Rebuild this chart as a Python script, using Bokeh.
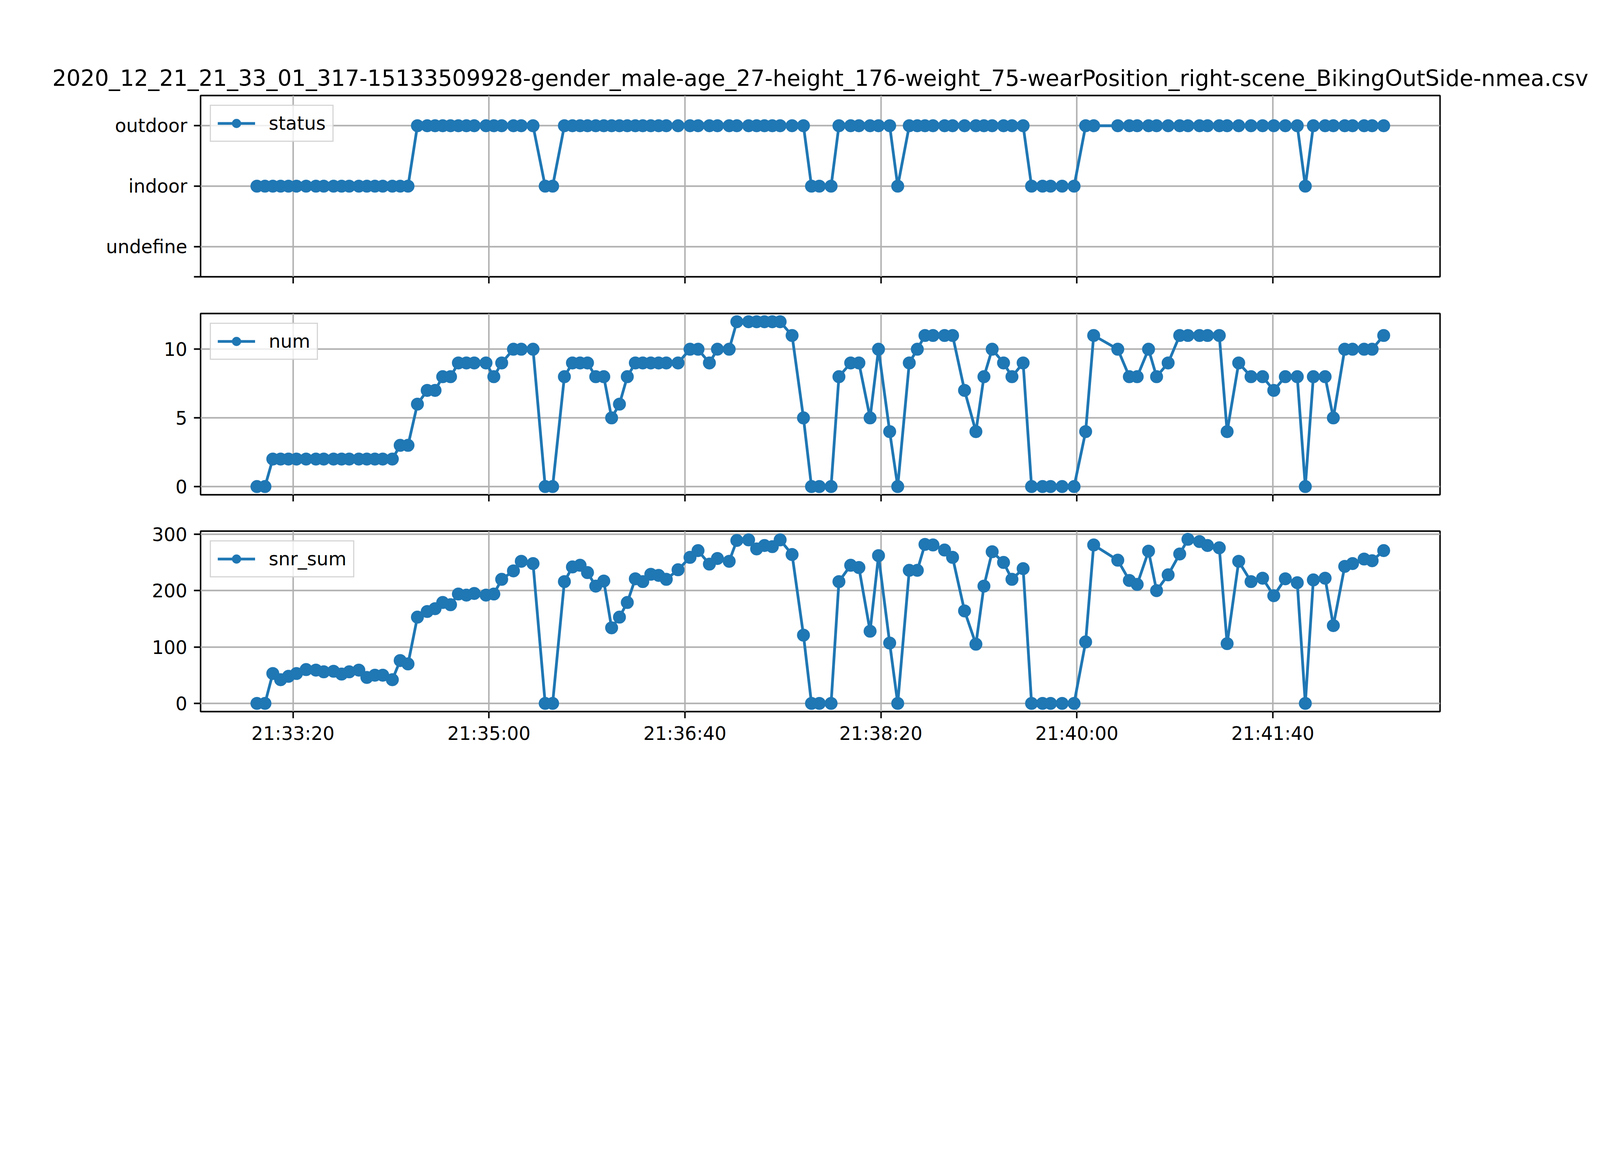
import pandas as pd

from bokeh.embed import file_html
from bokeh.layouts import column
from bokeh.models import CustomJSTickFormatter, DatetimeTickFormatter, FixedTicker, Range1d
from bokeh.plotting import figure
from bokeh.resources import INLINE

DAY = "2020-12-21"
TITLE = ("2020_12_21_21_33_01_317-15133509928-gender_male-age_27-height_176-"
         "weight_75-wearPosition_right-scene_BikingOutSide-nmea.csv")

# sample times (time of day)
times = [
    "21:33:01.6", "21:33:05.7", "21:33:09.7", "21:33:13.7", "21:33:17.7", "21:33:21.8",
    "21:33:26.7", "21:33:31.7", "21:33:35.7", "21:33:40.7", "21:33:44.8", "21:33:48.7",
    "21:33:53.6", "21:33:57.7", "21:34:01.8", "21:34:05.8", "21:34:10.7", "21:34:14.7",
    "21:34:18.7", "21:34:23.5", "21:34:28.5", "21:34:32.5", "21:34:36.4", "21:34:40.4",
    "21:34:44.4", "21:34:48.5", "21:34:52.5", "21:34:58.5", "21:35:02.5", "21:35:06.5",
    "21:35:12.5", "21:35:16.5", "21:35:22.5", "21:35:28.7", "21:35:32.5", "21:35:38.5",
    "21:35:42.6", "21:35:46.5", "21:35:50.3", "21:35:54.5", "21:35:58.6", "21:36:02.6",
    "21:36:06.6", "21:36:10.6", "21:36:14.7", "21:36:18.5", "21:36:22.6", "21:36:26.6",
    "21:36:30.5", "21:36:36.5", "21:36:42.6", "21:36:46.7", "21:36:52.5", "21:36:56.6",
    "21:37:02.6", "21:37:06.5", "21:37:12.5", "21:37:16.6", "21:37:20.6", "21:37:24.6",
    "21:37:28.6", "21:37:34.7", "21:37:40.5", "21:37:44.6", "21:37:48.6", "21:37:54.6",
    "21:37:58.6", "21:38:04.6", "21:38:08.8", "21:38:14.5", "21:38:18.8", "21:38:24.5",
    "21:38:28.6", "21:38:34.5", "21:38:38.6", "21:38:42.5", "21:38:46.6", "21:38:52.5",
    "21:38:56.6", "21:39:02.7", "21:39:08.5", "21:39:12.6", "21:39:16.8", "21:39:22.6",
    "21:39:26.9", "21:39:32.6", "21:39:36.9", "21:39:42.5", "21:39:46.6", "21:39:52.5",
    "21:39:58.6", "21:40:04.5", "21:40:08.6", "21:40:20.9", "21:40:26.8", "21:40:30.8",
    "21:40:36.6", "21:40:40.7", "21:40:46.6", "21:40:52.5", "21:40:56.7", "21:41:02.6",
    "21:41:06.7", "21:41:12.7", "21:41:16.7", "21:41:22.6", "21:41:28.9", "21:41:34.8",
    "21:41:40.5", "21:41:46.4", "21:41:52.5", "21:41:56.6", "21:42:00.7", "21:42:06.7",
    "21:42:10.9", "21:42:16.7", "21:42:20.7", "21:42:26.6", "21:42:30.7", "21:42:36.6",
]

status = [
    "indoor", "indoor", "indoor", "indoor", "indoor", "indoor", "indoor", "indoor",
    "indoor", "indoor", "indoor", "indoor", "indoor", "indoor", "indoor", "indoor",
    "indoor", "indoor", "indoor", "outdoor", "outdoor", "outdoor", "outdoor", "outdoor",
    "outdoor", "outdoor", "outdoor", "outdoor", "outdoor", "outdoor", "outdoor", "outdoor",
    "outdoor", "indoor", "indoor", "outdoor", "outdoor", "outdoor", "outdoor", "outdoor",
    "outdoor", "outdoor", "outdoor", "outdoor", "outdoor", "outdoor", "outdoor", "outdoor",
    "outdoor", "outdoor", "outdoor", "outdoor", "outdoor", "outdoor", "outdoor", "outdoor",
    "outdoor", "outdoor", "outdoor", "outdoor", "outdoor", "outdoor", "outdoor", "indoor",
    "indoor", "indoor", "outdoor", "outdoor", "outdoor", "outdoor", "outdoor", "outdoor",
    "indoor", "outdoor", "outdoor", "outdoor", "outdoor", "outdoor", "outdoor", "outdoor",
    "outdoor", "outdoor", "outdoor", "outdoor", "outdoor", "outdoor", "indoor", "indoor",
    "indoor", "indoor", "indoor", "outdoor", "outdoor", "outdoor", "outdoor", "outdoor",
    "outdoor", "outdoor", "outdoor", "outdoor", "outdoor", "outdoor", "outdoor", "outdoor",
    "outdoor", "outdoor", "outdoor", "outdoor", "outdoor", "outdoor", "outdoor", "indoor",
    "outdoor", "outdoor", "outdoor", "outdoor", "outdoor", "outdoor", "outdoor", "outdoor",
]

num = [
    0, 0, 2, 2, 2, 2, 2, 2, 2, 2, 2, 2, 2, 2, 2, 2, 2, 3, 3, 6,
    7, 7, 8, 8, 9, 9, 9, 9, 8, 9, 10, 10, 10, 0, 0, 8, 9, 9, 9, 8,
    8, 5, 6, 8, 9, 9, 9, 9, 9, 9, 10, 10, 9, 10, 10, 12, 12, 12, 12, 12,
    12, 11, 5, 0, 0, 0, 8, 9, 9, 5, 10, 4, 0, 9, 10, 11, 11, 11, 11, 7,
    4, 8, 10, 9, 8, 9, 0, 0, 0, 0, 0, 4, 11, 10, 8, 8, 10, 8, 9, 11,
    11, 11, 11, 11, 4, 9, 8, 8, 7, 8, 8, 0, 8, 8, 5, 10, 10, 10, 10, 11,
]

snr_sum = [
    0, 0, 53, 42, 48, 53, 60, 59, 56, 57, 52, 56, 59, 46, 50, 50, 42, 76, 70, 153,
    163, 168, 179, 175, 194, 192, 195, 192, 194, 220, 235, 252, 248, 0, 0, 216, 242, 245, 232, 208,
    217, 134, 153, 179, 221, 216, 229, 227, 220, 237, 259, 271, 247, 257, 252, 289, 290, 274, 280, 278,
    290, 264, 121, 0, 0, 0, 216, 245, 241, 128, 262, 107, 0, 236, 236, 282, 281, 272, 259, 164,
    105, 208, 269, 250, 220, 239, 0, 0, 0, 0, 0, 109, 281, 254, 218, 211, 270, 200, 228, 265,
    291, 287, 280, 276, 106, 252, 216, 222, 191, 221, 214, 0, 219, 222, 138, 243, 248, 256, 253, 271,
]

status_levels = ["undefine", "indoor", "outdoor"]
x_tick_labels = ["21:33:20", "21:35:00", "21:36:40", "21:38:20", "21:40:00", "21:41:40"]
num_ticks = [0, 5, 10]
snr_ticks = [0, 100, 200, 300]

BLUE = "#1f77b4"
FONT = "DejaVu Sans"
LW = 3.8  # spines, grid, ticks


def to_ms(clock):
    t = pd.to_datetime([f"{DAY} {c}" for c in clock])
    return [float(v) / 1e6 for v in t.asi8]


x = to_ms(times)
x_ticks = to_ms(x_tick_labels)
span = max(x) - min(x)
x_range = Range1d(min(x) - 0.05 * span, max(x) + 0.05 * span)


def pad_range(vals):
    lo, hi = min(vals), max(vals)
    m = 0.05 * (hi - lo)
    return Range1d(lo - m, hi + m)


def panel(name, y, y_range, y_ticks, height, top, bottom, last=False):
    p = figure(
        width=4080, height=height,
        x_axis_type="datetime", x_range=x_range, y_range=y_range,
        min_border_left=513, min_border_right=394,
        min_border_top=top, min_border_bottom=bottom,
        output_backend="svg", toolbar_location=None, tools="",
    )
    p.outline_line_color = "black"
    p.outline_line_width = LW

    p.xaxis.ticker = FixedTicker(ticks=x_ticks)
    p.yaxis.ticker = FixedTicker(ticks=y_ticks)
    for ax in (p.xaxis[0], p.yaxis[0]):
        ax.axis_line_color = None
        ax.major_tick_line_width = LW
        ax.major_tick_out = 17
        ax.major_tick_in = 0
        ax.minor_tick_line_color = None
        ax.major_label_text_font = FONT
        ax.major_label_text_font_size = "47.4px"
        ax.major_label_text_color = "black"
    p.yaxis.major_label_standoff = 17
    p.xaxis.major_label_standoff = 11

    if last:
        p.xaxis.formatter = DatetimeTickFormatter(
            seconds="%H:%M:%S", minsec="%H:%M:%S", minutes="%H:%M:%S",
            hourmin="%H:%M:%S", hours="%H:%M:%S",
        )
    else:
        p.xaxis.formatter = CustomJSTickFormatter(code="return ''")
        p.xaxis.major_label_text_font_size = "8px"
        p.xaxis.major_label_standoff = 0

    p.xgrid.ticker = FixedTicker(ticks=x_ticks)
    p.ygrid.ticker = FixedTicker(ticks=y_ticks)
    for g in (p.xgrid[0], p.ygrid[0]):
        g.grid_line_color = "#b0b0b0"
        g.grid_line_width = LW

    p.line(x, y, line_color=BLUE, line_width=7.1, line_join="round", legend_label=name)
    p.scatter(x, y, size=28.5, fill_color=BLUE, line_color=BLUE, line_width=4.7, legend_label=name)

    lg = p.legend[0]
    lg.location = "top_left"
    lg.margin = 24
    lg.padding = 17
    lg.spacing = 0
    lg.glyph_width = 96
    lg.glyph_height = 47
    lg.label_height = 47
    lg.label_standoff = 35
    lg.label_text_font = FONT
    lg.label_text_font_size = "47.4px"
    lg.label_text_color = "black"
    lg.border_line_color = "#cccccc"
    lg.border_line_width = LW
    lg.border_line_alpha = 0.8
    lg.background_fill_alpha = 0.8
    return p


status_y = [status_levels.index(s) for s in status]

p1 = panel("status", status_y, Range1d(-0.5, 2.5), [-0.5, 0, 1, 2], 755, 244, 47)
p1.yaxis.formatter = CustomJSTickFormatter(
    args=dict(labels=status_levels),
    code="const i = Math.round(tick); return (Math.abs(tick - i) < 1e-9 && i >= 0 && i < labels.length) ? labels[i] : '';",
)
p1.title.text = TITLE
p1.title.text_font = FONT
p1.title.text_font_size = "56.9px"
p1.title.text_font_style = "normal"
p1.title.text_color = "black"
p1.title.align = "center"
p1.title.standoff = 23

p2 = panel("num", num, pad_range(num), num_ticks, 557, 47, 46)
p3 = panel("snr_sum", snr_sum, pad_range(snr_sum), snr_ticks, 669, 47, 160, last=True)

layout = column(p1, p2, p3)

open("out.html", "w").write(file_html(layout, INLINE))
